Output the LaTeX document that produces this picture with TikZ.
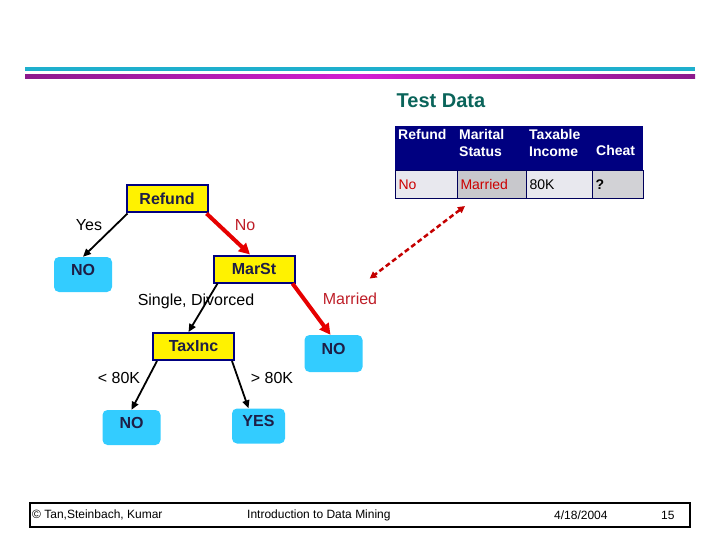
\documentclass[tikz,border=0pt]{standalone}
\usepackage{fontspec}
\setmainfont{Liberation Sans}
\usetikzlibrary{arrows.meta}

\definecolor{navy}{RGB}{0,0,128}
\definecolor{leafcyan}{RGB}{51,204,255}
\definecolor{testteal}{RGB}{10,100,90}
\definecolor{redlab}{RGB}{190,30,40}
\definecolor{redarr}{RGB}{230,0,0}
\definecolor{boxtext}{RGB}{30,30,70}
\definecolor{barcyan}{RGB}{30,175,205}
\definecolor{barmag}{RGB}{210,30,210}
\definecolor{barpurp}{RGB}{140,25,140}
\definecolor{cellA}{RGB}{232,232,238}
\definecolor{cellB}{RGB}{200,200,204}

\begin{document}
\begin{tikzpicture}
[
    x=1pt, y=-1pt,
    every node/.style={font=\fontsize{16}{19}\selectfont},
    split/.style={draw=navy, line width=2pt, fill=yellow, minimum width=81pt, minimum height=27pt, inner sep=0pt, font=\fontsize{16}{19}\selectfont\bfseries, text=boxtext},
    leaf/.style={fill=leafcyan, rounded corners=5pt, minimum width=58pt, text height=12pt, text depth=11pt, inner xsep=0pt, inner ysep=6pt, font=\fontsize{16}{19}\selectfont\bfseries, text=boxtext},
    branch/.style={-{Triangle[length=8pt,width=7pt]}, line width=1.8pt},
    taken/.style={-{Triangle[length=11pt,width=11pt]}, line width=4pt, draw=redarr},
    hdr/.style={text=white, font=\fontsize{14}{17}\selectfont\bfseries, align=left, inner sep=1pt},
    cell/.style={draw=navy!70!black, line width=1pt, minimum height=28pt, anchor=north west, inner xsep=3pt, inner ysep=0pt, text height=10pt, font=\fontsize{14}{17}\selectfont},
]
\useasboundingbox (0,0) rectangle (720,540);

\fill[barcyan] (25,67) rectangle (695,71.5);
\shade[left color=barpurp, right color=barpurp, middle color=barmag] (25,75) rectangle (695,79);

\node (title) [text=testteal, font=\fontsize{20}{24}\selectfont\bfseries] at (441,101) {Test Data};

\fill[navy] (395,126) rectangle (643,170);
\node (hRefund) [hdr, anchor=north west] at (397,128) {Refund};
\node (hMarital) [hdr, anchor=north west] at (458,128) {Marital\\Status};
\node (hIncome) [hdr, anchor=north west] at (528,128) {Taxable\\Income};
\node (hCheat) [hdr, anchor=west] at (595,150) {Cheat};
\node (cRefund) [cell, fill=cellA, text width=56pt, text=red!80!black] at (395,170) {No};
\node (cMarital) [cell, fill=cellB, text width=63pt, text=red!80!black] at (457,170) {Married};
\node (cIncome) [cell, fill=cellA, text width=60pt] at (526,170) {80K};
\node (cCheat) [cell, fill=cellB!70!cellA, text width=45pt, font=\fontsize{14}{17}\selectfont\bfseries] at (592,170) {?};

\node (refund) [split] at (167,199) {Refund};
\node (noA) [leaf] at (83,274.5) {NO};
\node (marst) [split] at (254,269) {MarSt};
\node (taxinc) [split] at (193.5,346.5) {TaxInc};
\node (noB) [leaf, minimum height=37pt] at (333.5,353.5) {NO};
\node (noC) [leaf] at (131.5,427.5) {NO};
\node (yes) [leaf, minimum width=53pt] at (258.5,426) {YES};

\node (lYes) at (89,225) {Yes};
\node (lNo) [text=redlab] at (245,225) {No};
\node (lSingle) at (196,301) {Single, Divorced};
\node (lMarried) [text=redlab] at (350,299) {Married};
\node (lLow) at (119,378) {< 80K};
\node (lHigh) at (272,378) {> 80K};

\draw[branch] ([xshift=2pt]refund.south west) -- (noA.north);
\draw[taken] ([xshift=-2pt]refund.south east) -- ([xshift=-4pt]marst.north);
\draw[branch] ([xshift=5pt]marst.south west) -- ([xshift=-5pt]taxinc.north);
\draw[taken] ([xshift=-3pt]marst.south east) -- ([xshift=-3pt]noB.north);
\draw[branch] ([xshift=5pt]taxinc.south west) -- (noC.north);
\draw[branch] ([xshift=-3pt]taxinc.south east) -- ([xshift=-10pt]yes.north);

\draw[{Triangle[length=7pt,width=7pt]}-{Triangle[length=7pt,width=7pt]}, redarr!85!black, line width=2.5pt, dash pattern=on 5pt off 3pt] ([xshift=8pt,yshift=-7pt]cMarital.south west) -- ([xshift=-11pt,yshift=11pt]lMarried.north east);

\node (footer) [draw, line width=2pt, minimum width=660pt, minimum height=24pt, inner sep=0pt] at (360,515) {};
\node (fAuthors) [anchor=west, inner sep=1pt, font=\fontsize{12}{14}\selectfont] at (31,515) {© Tan,Steinbach, Kumar};
\node (fCourse) [anchor=west, inner sep=1pt, font=\fontsize{12}{14}\selectfont] at (246,515) {Introduction to Data Mining};
\node (fDate) [anchor=west, inner sep=1pt, font=\fontsize{12}{14}\selectfont] at (553,515) {4/18/2004};
\node (fPage) [anchor=west, inner sep=1pt, font=\fontsize{12}{14}\selectfont] at (660,515) {15};
\end{tikzpicture}
\end{document}
